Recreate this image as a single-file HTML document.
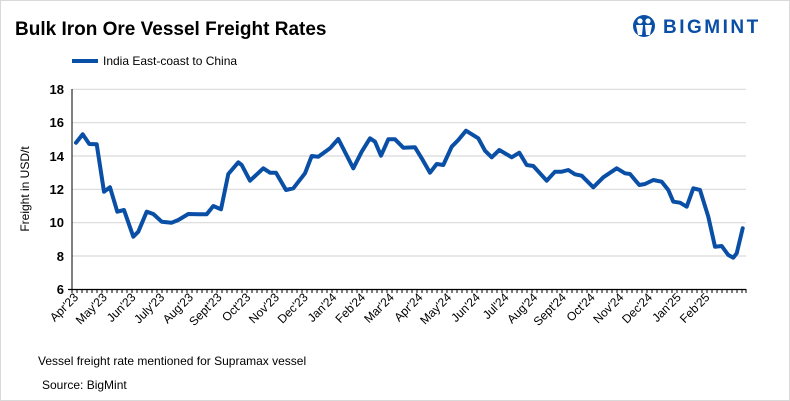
<!DOCTYPE html>
<html><head><meta charset="utf-8"><style>
body{margin:0;background:#fff;}
svg{display:block;font-family:"Liberation Sans",Arial,sans-serif;}
</style></head><body>
<svg width="790" height="401" viewBox="0 0 790 401">
<rect x="0.5" y="0.5" width="789" height="400" fill="#fff" stroke="#d9d9d9"/>
<text x="15" y="35" font-size="19" font-weight="bold" fill="#000">Bulk Iron Ore Vessel Freight Rates</text>
<!-- logo -->
<g transform="translate(644,26)">
<circle cx="0" cy="0" r="11" fill="#0a4fa6"/>
<circle cx="-4" cy="-5" r="2.6" fill="#fff"/><circle cx="4" cy="-5" r="2.6" fill="#fff"/>
<path d="M-8,-1 L-1,-1 L-2,9 L-6,9 Z M1,-1 L8,-1 L6,9 L2,9 Z" fill="#fff"/>
</g>
<text x="663" y="33" font-size="19" font-weight="bold" fill="#0a4fa6" letter-spacing="2.5">BIGMINT</text>
<line x1="72" y1="61" x2="98" y2="61" stroke="#0a4fa6" stroke-width="4"/>
<text x="103" y="65" font-size="12" fill="#000">India East-coast to China</text>
<g stroke="#d9d9d9" stroke-width="1.2">
<line x1="72" y1="89.3" x2="746" y2="89.3"/>
<line x1="72" y1="122.7" x2="746" y2="122.7"/>
<line x1="72" y1="156" x2="746" y2="156"/>
<line x1="72" y1="189.3" x2="746" y2="189.3"/>
<line x1="72" y1="222.7" x2="746" y2="222.7"/>
<line x1="72" y1="256" x2="746" y2="256"/>
</g>
<g font-size="13" font-weight="bold" text-anchor="end" fill="#000">
<text x="64" y="94">18</text><text x="64" y="127">16</text><text x="64" y="161">14</text>
<text x="64" y="194">12</text><text x="64" y="227">10</text><text x="64" y="261">8</text><text x="64" y="294">6</text>
</g>
<line x1="72" y1="89" x2="72" y2="290" stroke="#000" stroke-width="1"/>
<line x1="68" y1="289.5" x2="746" y2="289.5" stroke="#000" stroke-width="1.2"/>
<path id="ticks" stroke="#000" stroke-width="1" d="
M72,289v4 M77,289v4 M82,289v4 M87,289v4 M92,289v4 M97,289v4 M102,289v4 M107,289v4 M112,289v4 M117,289v4 M122,289v4 M127,289v4 M132,289v4 M137,289v4 M142,289v4 M147,289v4 M152,289v4 M157,289v4 M162,289v4 M167,289v4 M172,289v4 M177,289v4 M182,289v4 M187,289v4 M192,289v4 M197,289v4 M202,289v4 M207,289v4 M212,289v4 M217,289v4 M222,289v4 M227,289v4 M232,289v4 M237,289v4 M242,289v4 M247,289v4 M252,289v4 M257,289v4 M262,289v4 M267,289v4 M272,289v4 M277,289v4 M282,289v4 M287,289v4 M292,289v4 M297,289v4 M302,289v4 M307,289v4 M312,289v4 M317,289v4 M322,289v4 M327,289v4 M332,289v4 M337,289v4 M342,289v4 M347,289v4 M352,289v4 M357,289v4 M362,289v4 M367,289v4 M372,289v4 M377,289v4 M382,289v4 M387,289v4 M392,289v4 M397,289v4 M402,289v4 M407,289v4 M412,289v4 M417,289v4 M422,289v4 M427,289v4 M432,289v4 M437,289v4 M442,289v4 M447,289v4 M452,289v4 M457,289v4 M462,289v4 M467,289v4 M472,289v4 M477,289v4 M482,289v4 M487,289v4 M492,289v4 M497,289v4 M502,289v4 M507,289v4 M512,289v4 M517,289v4 M522,289v4 M527,289v4 M532,289v4 M537,289v4 M542,289v4 M547,289v4 M552,289v4 M557,289v4 M562,289v4 M567,289v4 M572,289v4 M577,289v4 M582,289v4 M587,289v4 M592,289v4 M597,289v4 M602,289v4 M607,289v4 M612,289v4 M617,289v4 M622,289v4 M627,289v4 M632,289v4 M637,289v4 M642,289v4 M647,289v4 M652,289v4 M657,289v4 M662,289v4 M667,289v4 M672,289v4 M677,289v4 M682,289v4 M687,289v4 M692,289v4 M697,289v4 M702,289v4 M707,289v4 M712,289v4 M717,289v4 M722,289v4 M727,289v4 M732,289v4 M737,289v4 M742,289v4 M746,289v4"/>
<g font-size="12" text-anchor="end" fill="#000">
<text transform="translate(79,298) rotate(-45)">Apr'23</text>
<text transform="translate(107.7,298) rotate(-45)">May'23</text>
<text transform="translate(136.4,298) rotate(-45)">Jun'23</text>
<text transform="translate(165.1,298) rotate(-45)">July'23</text>
<text transform="translate(193.8,298) rotate(-45)">Aug'23</text>
<text transform="translate(222.5,298) rotate(-45)">Sept'23</text>
<text transform="translate(251.2,298) rotate(-45)">Oct'23</text>
<text transform="translate(279.9,298) rotate(-45)">Nov'23</text>
<text transform="translate(308.6,298) rotate(-45)">Dec'23</text>
<text transform="translate(337.3,298) rotate(-45)">Jan'24</text>
<text transform="translate(366,298) rotate(-45)">Feb'24</text>
<text transform="translate(394.7,298) rotate(-45)">Mar'24</text>
<text transform="translate(423.4,298) rotate(-45)">Apr'24</text>
<text transform="translate(452.1,298) rotate(-45)">May'24</text>
<text transform="translate(480.8,298) rotate(-45)">Jun'24</text>
<text transform="translate(509.5,298) rotate(-45)">Jul'24</text>
<text transform="translate(538.2,298) rotate(-45)">Aug'24</text>
<text transform="translate(566.9,298) rotate(-45)">Sept'24</text>
<text transform="translate(595.6,298) rotate(-45)">Oct'24</text>
<text transform="translate(624.3,298) rotate(-45)">Nov'24</text>
<text transform="translate(653,298) rotate(-45)">Dec'24</text>
<text transform="translate(681.7,298) rotate(-45)">Jan'25</text>
<text transform="translate(710.4,298) rotate(-45)">Feb'25</text>
</g>
<text transform="translate(29,189) rotate(-90)" font-size="12" text-anchor="middle" fill="#000">Freight  in USD/t</text>
<polyline fill="none" stroke="#0a4fa6" stroke-width="4" stroke-linejoin="round" stroke-linecap="round" points="
76,142.7 82.7,134.3 89.3,144 96.7,144.3 104,191.7 110,187.3 117.3,211.7 124,210 133.3,236.7 138.3,231.7 146.7,211.7 153.3,214 161.7,221.7 171.7,222.7 178.3,220 188.3,214 198.3,214.3 206.7,214.3 213.3,206 221,209.3 228.3,174 238.3,162.3 241.7,165 250,180.7 263.3,168.3 270,172.7 276,172.7 286,190 293.3,188.3 305,173.3 311.7,156 318.3,156.7 330,148.3 338.3,139 353.3,168.3 361.7,151.7 370,138.3 375,141.7 381,155.7 388.3,139.3 395,139.3 403.3,147.7 415,147.3 421.7,158.3 430,172.7 436.7,164 443.3,165 451.7,146.7 458.3,140 466,130.7 478.3,138.3 485,150.7 491.7,157.3 499.3,150 511.7,157.3 519.3,152.7 526.7,165 533.3,166 546.7,180.7 555,171.7 561.7,171.7 568.3,170 575,174.3 581.7,175.7 593.3,187.3 603.3,177.3 616.7,168.3 625,173.3 630,174 639.3,185 645,184 653.3,180 661.7,181.7 668.3,190 673.3,201.7 680,202.7 686.7,206.7 693.3,188.3 700,190 708.3,216.7 715,246.7 721.7,246 728.3,255 733.3,257.7 736.7,253.3 742.7,228.3"/>
<text x="38" y="365" font-size="12" fill="#000">Vessel freight rate mentioned for Supramax vessel</text>
<text x="42" y="389" font-size="12" fill="#000">Source:  BigMint</text>
</svg>
</body></html>
